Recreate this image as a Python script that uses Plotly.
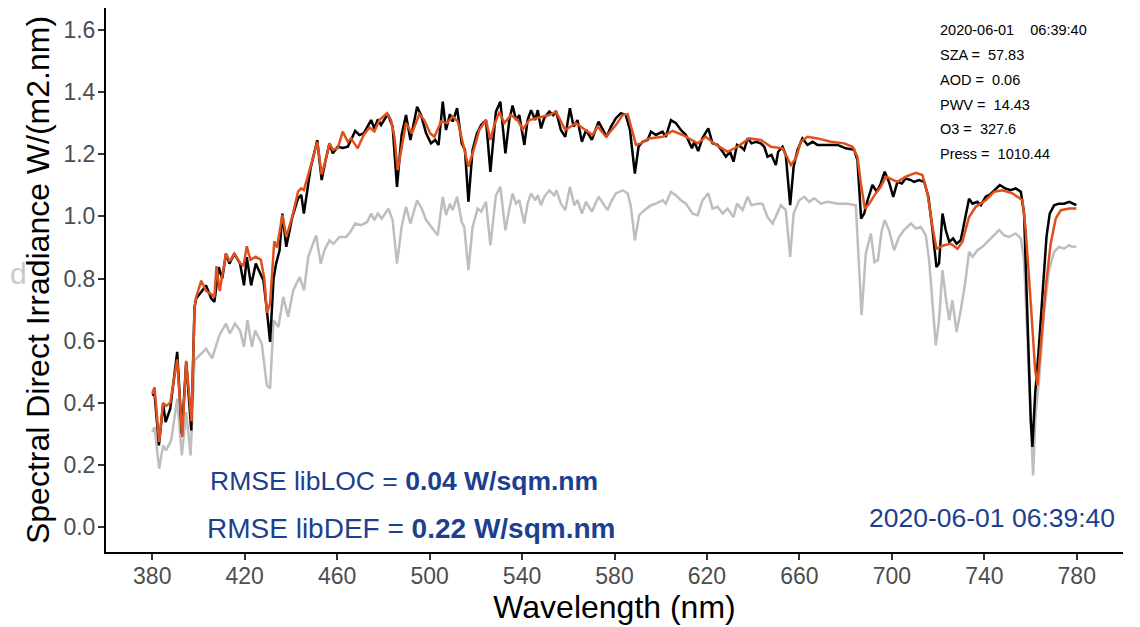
import plotly.graph_objects as go

# ---- measured (black) ----
wl_meas = [380, 381, 382.9, 384.7, 385.8, 387.8, 390.8, 392.8, 394.7, 396.9, 398.3, 399, 401.2, 403.3, 405.5,
           406.9, 408.8, 410.3, 411.9, 413.4, 415.5, 418, 419.7, 420.9, 422.8, 424.8, 426.5, 428.1, 429.6, 431.0,
           432.5, 433.6, 435.1, 436.3, 438, 440.6, 443.1, 444.5, 445.6, 448.5, 451.4, 453.3, 455, 456.7, 458.1,
           460.3, 462.5, 464.6, 466, 467.8, 469.6, 471.5, 474.7, 476.1, 477.6, 479, 481.9, 484, 485.9, 487.9,
           489.8, 491.7, 494.6, 496.3, 498.5, 500.6, 502.4, 503.9, 505.7, 507.1, 508.8, 510, 511.9, 513.9, 515.3,
           516.8, 518.6, 520.5, 522.3, 524.4, 526.3, 528.7, 530.6, 532.8, 534.5, 535.9, 537.4, 538.8, 541, 542.4,
           543.9, 545.7, 546.8, 548.2, 549.6, 551.8, 553.5, 554.7, 556.8, 558.7, 560.7, 562.3, 564, 565.9, 567.7,
           570.2, 573.1, 575.1, 576.6, 578.5, 580.6, 582.8, 584.9, 586.7, 588.8, 590.4, 592.2, 594.3, 595.8, 597.9,
           600.8, 602.2, 604.4, 606.6, 608.7, 610.9, 613.5, 614.5, 616.2, 618.1, 620.6, 622.4, 624.6, 626.8, 628.2,
           630, 631.5, 633, 634.7, 636.1, 637.6, 639.3, 641.2, 643.3, 644.8, 646.2, 647.9, 649.8, 650.8, 652.7,
           654.1, 656, 657.5, 659.2, 661.3, 663.5, 665.7, 667.8, 670.7, 673.6, 676.5, 680.1, 683.7, 685.1, 686.7,
           688, 689.5, 691.6, 693.5, 695.2, 696.9, 698.8, 700.6, 702.4, 704.3, 706, 708.2, 709.6, 711.8, 714,
           715.8, 717.6, 719.3, 720.4, 721.9, 723.3, 724.8, 726.5, 728, 729.8, 731.7, 733.4, 734.9, 737, 738.5,
           740.6, 742.4, 744.2, 746.7, 749, 751.4, 753.6, 755.8, 757.2, 758.2, 759.4, 760.1, 760.8, 762, 763.4,
           765.1, 766.9, 768.3, 770.2, 772.3, 774.5, 776.7, 778.1, 779.8]
e_meas = [0.424, 0.43, 0.263, 0.397, 0.338, 0.381, 0.564, 0.300, 0.531, 0.311, 0.709, 0.736, 0.757, 0.778, 0.736,
          0.725, 0.837, 0.80, 0.880, 0.848, 0.880, 0.848, 0.778, 0.869, 0.778, 0.848, 0.82, 0.795, 0.698, 0.596,
          0.80, 0.848, 0.891, 1.009, 0.902, 0.998, 1.058, 1.069, 1.009, 1.154, 1.245, 1.117, 1.181, 1.235, 1.203,
          1.224, 1.22, 1.224, 1.246, 1.275, 1.262, 1.267, 1.310, 1.283, 1.312, 1.294, 1.329, 1.289, 1.095, 1.262,
          1.326, 1.246, 1.353, 1.326, 1.267, 1.235, 1.246, 1.230, 1.369, 1.278, 1.329, 1.305, 1.348, 1.235, 1.214,
          1.047, 1.214, 1.267, 1.294, 1.310, 1.143, 1.337, 1.369, 1.203, 1.31, 1.357, 1.310, 1.326, 1.230, 1.310,
          1.342, 1.310, 1.342, 1.283, 1.316, 1.337, 1.326, 1.339, 1.278, 1.256, 1.348, 1.289, 1.310, 1.240, 1.278,
          1.246, 1.305, 1.278, 1.256, 1.289, 1.316, 1.332, 1.326, 1.278, 1.138, 1.224, 1.240, 1.246, 1.273, 1.262,
          1.273, 1.256, 1.310, 1.300, 1.278, 1.262, 1.219, 1.24, 1.21, 1.253, 1.283, 1.235, 1.230, 1.208, 1.192,
          1.208, 1.176, 1.230, 1.224, 1.214, 1.251, 1.235, 1.240, 1.235, 1.224, 1.192, 1.198, 1.165, 1.208, 1.224,
          1.198, 1.036, 1.160, 1.214, 1.251, 1.230, 1.240, 1.230, 1.230, 1.230, 1.230, 1.219, 1.214, 1.181, 0.993,
          1.009, 1.052, 1.101, 1.079, 1.106, 1.144, 1.11, 1.063, 1.111, 1.106, 1.122, 1.117, 1.111, 1.117, 1.111,
          1.063, 0.956, 0.837, 0.848, 1.009, 0.956, 0.918, 0.929, 0.912, 0.923, 0.988, 1.057, 1.041, 1.047, 1.036,
          1.063, 1.07, 1.084, 1.101, 1.090, 1.084, 1.090, 1.079, 1.009, 0.773, 0.451, 0.343, 0.258, 0.430, 0.558,
          0.751, 0.934, 1.009, 1.036, 1.041, 1.041, 1.047, 1.041, 1.036]

# ---- libRadtran local inputs (orange) ----
wl_loc = [380, 381, 383, 384.7, 386, 387.8, 390.8, 393, 394.7, 397, 398.3, 399, 401.2, 403.3, 405.5, 406.9,
          407.8, 409.2, 411.9, 413.5, 415.5, 418, 419.5, 420.9, 422.5, 424.8, 427, 428.5, 429.6, 431, 432.8,
          434, 436.3, 438, 440.6, 443.1, 444.5, 445.6, 448.5, 451.4, 453.3, 455, 456.7, 458.1, 460.3, 462.4,
          464.6, 466, 468.9, 471.5, 474, 476.1, 478.3, 481.6, 483.3, 484.8, 486.2, 488.1, 489.8, 492.3, 495.6,
          497.7, 500.3, 502.1, 505, 507.5, 510, 512.2, 514.8, 516.8, 519.1, 521.5, 524.4, 526.3, 528, 530.2,
          532.3, 535.2, 538.1, 540.3, 543.1, 547.5, 551.8, 554.7, 558.7, 563.3, 567.7, 570.5, 572.7, 576.3,
          580.6, 583.5, 585.7, 587.1, 589.3, 591.4, 595, 600.8, 605.1, 609.5, 613, 616, 619.5, 623.1, 628.9,
          633.2, 638.3, 643.3, 647.7, 652.7, 654.9, 656.3, 658.5, 660.6, 663.5, 667.8, 673.6, 679.4, 683, 685.1,
          686.6, 688.3, 690.2, 693, 695.2, 697.4, 700.7, 702.4, 706, 710.4, 713.2, 715.4, 717.6, 719.3, 722.6,
          725.5, 728.4, 730.5, 733.4, 736.3, 740.6, 744.2, 747.8, 752.2, 756.5, 757.9, 760.1, 762, 763, 764.4,
          766.6, 768.7, 770.9, 773.1, 776.7, 779.8]
e_loc = [0.43, 0.45, 0.274, 0.40, 0.39, 0.40, 0.54, 0.29, 0.535, 0.34, 0.70, 0.74, 0.793, 0.76, 0.75, 0.74,
         0.84, 0.76, 0.88, 0.855, 0.88, 0.85, 0.84, 0.904, 0.86, 0.87, 0.86, 0.80, 0.69, 0.72, 0.92,
         0.90, 1.005, 0.934, 1.00, 1.08, 1.09, 1.085, 1.16, 1.24, 1.135, 1.18, 1.235, 1.214, 1.22, 1.273,
         1.240, 1.251, 1.219, 1.262, 1.286, 1.273, 1.310, 1.332, 1.310, 1.256, 1.149, 1.235, 1.300, 1.267, 1.329,
         1.310, 1.267, 1.256, 1.305, 1.300, 1.321, 1.305, 1.224, 1.160, 1.214, 1.278, 1.310, 1.246, 1.294, 1.337,
         1.300, 1.326, 1.310, 1.280, 1.310, 1.318, 1.326, 1.337, 1.278, 1.300, 1.278, 1.262, 1.289, 1.256,
         1.294, 1.326, 1.329, 1.289, 1.230, 1.235, 1.251, 1.256, 1.275, 1.262, 1.246, 1.235, 1.256, 1.235, 1.208,
         1.224, 1.251, 1.246, 1.224, 1.219, 1.187, 1.165, 1.187, 1.240, 1.256, 1.251, 1.240, 1.235, 1.224, 1.192,
         1.106, 1.025, 1.041, 1.074, 1.095, 1.128, 1.117, 1.111, 1.128, 1.140, 1.133, 1.074, 0.966, 0.896, 0.907,
         0.912, 0.896, 0.918, 0.998, 1.031, 1.052, 1.079, 1.084, 1.074, 1.052, 0.956, 0.720, 0.505, 0.457, 0.580,
         0.773, 0.912, 0.993, 1.020, 1.025, 1.025]

# ---- libRadtran default inputs (grey) ----
wl_def = [380, 381, 383, 384.7, 386, 388.2, 390.8, 392.8, 394.7, 396.6, 398.3, 401.2, 403.3, 405.9, 409, 411.9,
          413.6, 415.8, 418, 419.7, 421.2, 423.1, 424.5, 427.4, 429.6, 431, 432.5, 434.6, 436.7, 438.8, 441,
          443.8, 445.7, 447.5, 450.9, 452.9, 454.5, 456.7, 458.4, 461, 463.9, 465.7, 467.8, 470.4, 473, 474.7,
          476.1, 477.6, 479.3, 482.2, 484, 485.9, 487.9, 489.8, 491.7, 494.6, 496.6, 498.5, 500.6, 503.5, 505.7,
          507.1, 508.8, 510, 511.9, 513.9, 515, 516.8, 518.6, 520.8, 522.3, 524.4, 526.3, 528.7, 530.6, 532.8,
          534.5, 535.9, 537.4, 538.8, 541, 542.4, 543.9, 545.7, 546.8, 548.2, 549.6, 551.8, 553.9, 554.9, 556.8,
          558.7, 560.7, 562.6, 564, 565.9, 567.7, 570.2, 573.1, 575.1, 577, 578.5, 580.6, 583.5, 585.7, 587.1,
          588.8, 590.7, 592.9, 595.8, 597.9, 600.8, 602.2, 604.4, 606.6, 608.7, 610.9, 613.8, 616, 618.1, 620.6,
          622.4, 624.6, 626.8, 628.9, 631.5, 633, 635.4, 637.6, 639.3, 641.9, 644, 646.2, 648.4, 649.8, 652,
          654.1, 656, 657.5, 659.9, 662.1, 664.2, 666.4, 669.3, 672.2, 676.5, 680.8, 684.4, 686.9, 688.7, 690.9,
          692.5, 694, 695.5, 696.9, 698.8, 701, 703.1, 705.3, 708.2, 710.4, 712.5, 714.7, 716.1, 717.6, 719,
          720.4, 721.9, 723.3, 724.8, 726.2, 728, 729.8, 731.7, 733.4, 734.9, 737, 739.2, 741.3, 744.2, 746.4,
          748.6, 750.7, 753.6, 755.8, 757.2, 758.6, 760.1, 761.1, 762.2, 763.7, 765.8, 768, 770.2, 772.3, 774.5,
          776.7, 778.1, 779.8]
e_def = [0.306, 0.322, 0.188, 0.263, 0.247, 0.279, 0.413, 0.231, 0.37, 0.231, 0.537, 0.558, 0.574, 0.543, 0.617, 0.655,
         0.623, 0.655, 0.633, 0.580, 0.666, 0.580, 0.633, 0.590, 0.456, 0.446, 0.666, 0.644, 0.741, 0.677, 0.762,
         0.805, 0.762, 0.870, 0.939, 0.848, 0.891, 0.923, 0.912, 0.934, 0.934, 0.950, 0.977, 0.972, 0.982, 1.009,
         0.988, 1.009, 0.993, 1.025, 0.988, 0.848, 0.966, 1.031, 0.977, 1.052, 1.025, 0.988, 0.966, 0.939, 1.063,
         1.004, 1.041, 1.020, 1.063, 0.982, 0.966, 0.827, 0.966, 1.025, 1.015, 1.047, 0.907, 1.068, 1.095, 0.955,
         1.025, 1.074, 1.041, 1.052, 0.977, 1.041, 1.074, 1.052, 1.068, 1.036, 1.063, 1.084, 1.068, 1.084, 1.041,
         1.020, 1.095, 1.036, 1.052, 1.009, 1.047, 1.015, 1.063, 1.041, 1.020, 1.047, 1.074, 1.084, 1.074, 1.031,
         0.923, 1.004, 1.020, 1.036, 1.041, 1.052, 1.041, 1.079, 1.068, 1.052, 1.041, 1.009, 1.004, 1.052, 1.074,
         1.025, 1.031, 1.009, 1.025, 0.998, 1.041, 1.020, 1.063, 1.036, 1.041, 1.041, 0.998, 0.977, 0.998, 1.036,
         1.020, 0.870, 1.009, 1.052, 1.063, 1.047, 1.058, 1.041, 1.047, 1.041, 1.041, 1.036, 0.682, 0.880, 0.945,
         0.853, 0.86, 0.95, 0.988, 0.955, 0.891, 0.934, 0.956, 0.977, 0.961, 0.966, 0.939, 0.859, 0.720, 0.585,
         0.666, 0.827, 0.741, 0.666, 0.730, 0.628, 0.698, 0.784, 0.886, 0.870, 0.891, 0.902, 0.918, 0.939, 0.956,
         0.939, 0.934, 0.945, 0.929, 0.859, 0.612, 0.343, 0.166, 0.365, 0.473, 0.687, 0.827, 0.886, 0.902, 0.896,
         0.907, 0.902, 0.902]

x_ticks = [380, 420, 460, 500, 540, 580, 620, 660, 700, 740, 780]
y_ticks = [0.0, 0.2, 0.4, 0.6, 0.8, 1.0, 1.2, 1.4, 1.6]

info_lines = ["2020-06-01&nbsp;&nbsp;&nbsp;&nbsp;06:39:40", "SZA =&nbsp; 57.83", "AOD =&nbsp; 0.06",
              "PWV =&nbsp; 14.43", "O3 =&nbsp; 327.6", "Press =&nbsp; 1010.44"]
info_y = [1.6, 1.52, 1.44, 1.36, 1.28, 1.2]

FONT = "Liberation Sans, Arial, sans-serif"
BLUE = "#1D3F8E"

fig = go.Figure()
fig.add_trace(go.Scatter(x=wl_def, y=e_def, mode="lines", line=dict(color="#BEBEBE", width=2.5),
                         name="libDEF", showlegend=False))
fig.add_trace(go.Scatter(x=wl_meas, y=e_meas, mode="lines", line=dict(color="#000000", width=2.5),
                         name="Measured", showlegend=False))
fig.add_trace(go.Scatter(x=wl_loc, y=e_loc, mode="lines", line=dict(color="#E0501E", width=2.5),
                         name="libLOC", showlegend=False))

annotations = []
for t, yy in zip(info_lines, info_y):
    annotations.append(dict(x=720, y=yy, xref="x", yref="y", text=t, showarrow=False,
                            xanchor="left", yanchor="middle", font=dict(family=FONT, size=14.5, color="#000")))
annotations.append(dict(x=489, y=0.15, xref="x", yref="y", showarrow=False,
                        text="RMSE libLOC = <b>0.04 W/sqm.nm</b>", xanchor="center", yanchor="middle",
                        font=dict(family=FONT, size=26.5, color=BLUE)))
annotations.append(dict(x=492, y=-0.003, xref="x", yref="y", showarrow=False,
                        text="RMSE libDEF = <b>0.22 W/sqm.nm</b>", xanchor="center", yanchor="middle",
                        font=dict(family=FONT, size=28, color=BLUE)))
annotations.append(dict(x=797.5, y=0.028, xref="x", yref="y", showarrow=False,
                        text="2020-06-01 06:39:40", xanchor="right", yanchor="middle",
                        font=dict(family=FONT, size=26.5, color=BLUE)))
annotations.append(dict(x=0, y=0.5126, xref="paper", yref="paper", showarrow=False,
                        text="d", xanchor="left", yanchor="middle", xshift=-98,
                        font=dict(family=FONT, size=30, color="#C8C8C8")))

fig.update_layout(
    width=1132, height=619,
    margin=dict(l=98, r=17, t=0, b=75, autoexpand=False),
    paper_bgcolor="white", plot_bgcolor="white",
    font=dict(family=FONT),
    annotations=annotations,
    xaxis=dict(range=[360, 800], tickvals=x_ticks, ticktext=[str(v) for v in x_ticks], automargin=False,
               showline=True, linecolor="#000", linewidth=2, ticks="outside", ticklen=6, tickwidth=2,
               tickcolor="#333", showgrid=False, zeroline=False, ticklabelstandoff=-4,
               tickfont=dict(family=FONT, size=23, color="#4D4D4D"),
               title=dict(text="Wavelength (nm)", font=dict(family=FONT, size=32, color="#000"), standoff=6)),
    yaxis=dict(range=[-0.08, 1.6706], tickvals=y_ticks, ticktext=[f"{v:.1f}" for v in y_ticks], automargin=False,
               showline=True, linecolor="#000", linewidth=2, ticks="outside", ticklen=6, tickwidth=2,
               tickcolor="#333", showgrid=False, zeroline=False, ticklabelstandoff=-2,
               tickfont=dict(family=FONT, size=23, color="#4D4D4D"),
               title=dict(text="Spectral Direct Irradiance W/(m2.nm)", font=dict(family=FONT, size=32, color="#000"),
                          standoff=4)),
)
fig.write_html("out.html")
